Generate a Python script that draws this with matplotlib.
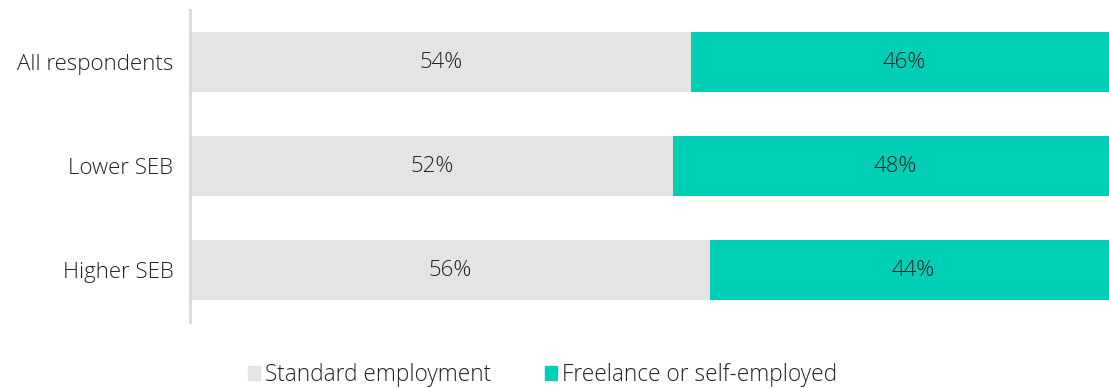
import numpy as np
import matplotlib.pyplot as plt
from matplotlib.patches import Patch

plt.rcParams['font.family'] = ['Open Sans', 'DejaVu Sans']

groups = ['All respondents', 'Lower SEB', 'Higher SEB']
standard = [54, 52, 56]
freelance = [46, 48, 44]
series_names = ['Standard employment', 'Freelance or self-employed']
colors = ['#e4e4e4', '#00ceb5']
text_color = '#222222'

fig = plt.figure(figsize=(11.09, 3.88), dpi=100)
ax = fig.add_axes([190 / 1109, 1 - 322 / 388, 1 - 190 / 1109, 312 / 388])

y = np.arange(len(groups))
h = 0.577
ax.barh(y, standard, height=h, color=colors[0], left=0)
ax.barh(y, freelance, height=h, color=colors[1], left=standard)

fs = 16
for i in range(len(groups)):
    ax.text(standard[i] / 2, y[i], f'{standard[i]}%', ha='center', va='center',
            fontsize=fs, color=text_color, fontweight='light')
    ax.text(standard[i] + freelance[i] / 2, y[i], f'{freelance[i]}%', ha='center',
            va='center', fontsize=fs, color=text_color, fontweight='light')

# the bars run slightly past the right edge of the figure
ax.set_xlim(-0.1, 99.1)
ax.set_ylim(2.5, -0.5)
ax.set_yticks(y)
ax.set_yticklabels(groups, fontsize=fs, color=text_color, fontweight='light')
ax.tick_params(axis='y', length=0, pad=12)
ax.set_xticks([])
for s in ['top', 'right', 'bottom']:
    ax.spines[s].set_visible(False)
ax.spines['left'].set_color('#d9d9d9')
ax.spines['left'].set_linewidth(2)

handles = [Patch(color=c) for c in colors]
fig.legend(handles, series_names, loc='center', bbox_to_anchor=(0.489, 1 - 375 / 388),
           ncol=2, frameon=False, prop={'size': 16.3, 'weight': 'light'},
           handlelength=0.55, handleheight=0.55, handletextpad=0.2, columnspacing=2.4,
           labelcolor=text_color)

plt.savefig('out.png')
